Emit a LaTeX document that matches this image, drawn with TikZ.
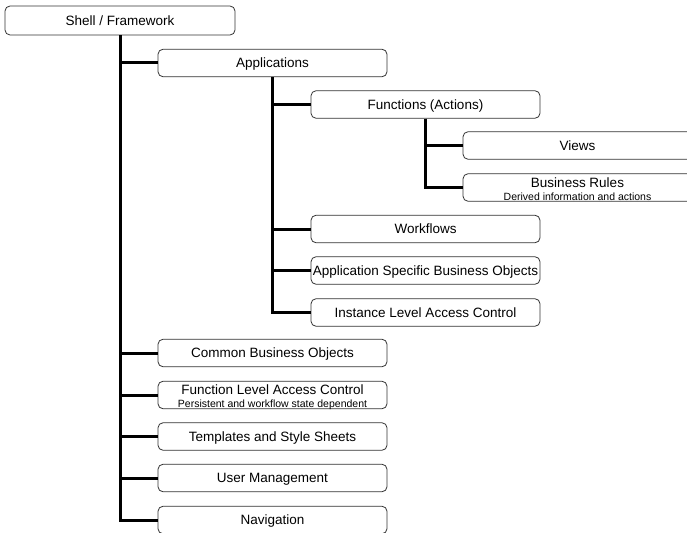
\documentclass[tikz,border=0pt]{standalone}
\usepackage{fontspec}
\setmainfont{Liberation Sans}
\begin{document}
\begin{tikzpicture}[x=1pt,y=-1pt,
  box/.style={draw=black!80, line width=0.8pt, rounded corners=5pt, fill=white,
    minimum width=229pt, minimum height=27.5pt, inner sep=0pt,
    text height=9.7pt, text depth=0pt,
    font=\fontsize{13.5}{16}\selectfont},
  maintxt/.style={anchor=base, inner sep=0pt, font=\fontsize{13.5}{16}\selectfont},
  subtxt/.style={anchor=base, inner sep=0pt, font=\fontsize{10.5}{12}\selectfont},
  conn/.style={line width=3pt, black}]
\useasboundingbox (0,0) rectangle (687,532);
\clip (0,0) rectangle (687,532);
% boxes
\node[box, minimum width=230pt, minimum height=29pt] (shell) at (120,20.5) {Shell / Framework};
\node[box] (apps) at (272.5,63) {Applications};
\node[box] (func) at (425.5,104.5) {Functions (Actions)};
\node[box] (views) at (577.5,145.5) {Views};
\node[box] (br) at (577.5,187.5) {};
\node[maintxt] (brT) at ([yshift=0.5pt]br.center) {Business Rules};
\node[subtxt] (brS) at ([yshift=1.5pt]br.south) {Derived information and actions};
\node[box] (wf) at (425.5,229) {Workflows};
\node[box] (asbo) at (425.5,270.5) {Application Specific Business Objects};
\node[box] (ilac) at (425.5,312.5) {Instance Level Access Control};
\node[box] (cbo) at (272.5,353) {Common Business Objects};
\node[box] (flac) at (272.5,395) {};
\node[maintxt] (flacT) at ([yshift=0.5pt]flac.center) {Function Level Access Control};
\node[subtxt] (flacS) at ([yshift=1.5pt]flac.south) {Persistent and workflow state dependent};
\node[box] (tss) at (272.5,436.5) {Templates and Style Sheets};
\node[box] (um) at (272.5,478) {User Management};
\node[box] (nav) at (272.5,520) {Navigation};
% connectors
\foreach \c in {apps,cbo,flac,tss,um,nav} \draw[conn] (shell.south) |- (\c.west);
\foreach \c in {func,wf,asbo,ilac} \draw[conn] (apps.south) |- (\c.west);
\foreach \c in {views,br} \draw[conn] (func.south) |- (\c.west);
\end{tikzpicture}
\end{document}
